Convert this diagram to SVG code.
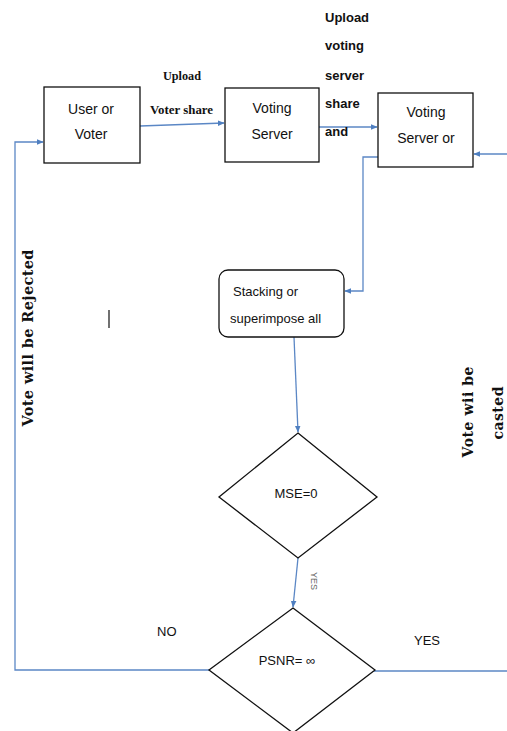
<svg xmlns="http://www.w3.org/2000/svg" width="507" height="731" viewBox="0 0 507 731">
<style>
.box{fill:#fff;stroke:#111;stroke-width:1.3}
.t{font-family:"Liberation Sans",Arial,sans-serif;font-size:14px;fill:#111;text-anchor:middle}
.lb{font-family:"Liberation Sans",Arial,sans-serif;font-size:13px;font-weight:bold;fill:#111}
.sl{font-family:"Liberation Serif","Times New Roman",serif;font-size:13.5px;font-weight:bold;fill:#111}
.vr{font-family:"DejaVu Serif",serif;font-size:14px;font-weight:bold;fill:#111;text-anchor:middle}
.c{fill:none;stroke:#5b87c5;stroke-width:1.3}
</style>
<defs>
<marker id="ah" viewBox="0 0 10 10" refX="9" refY="5" markerWidth="7" markerHeight="7" markerUnits="userSpaceOnUse" orient="auto">
<path d="M0,1 L10,5 L0,9 z" fill="#4f7fc0"/>
</marker>
</defs>
<rect width="507" height="731" fill="#fff"/>
<g id="connectors">
<path class="c" d="M140,126 L224,123" marker-end="url(#ah)"/>
<path class="c" d="M319,127 L377,127" marker-end="url(#ah)"/>
<path class="c" d="M507,154 L474,154" marker-end="url(#ah)"/>
<path class="c" d="M378,157 L363,157 L363,291 L345,291" marker-end="url(#ah)"/>
<path class="c" d="M294,337 L298,432" marker-end="url(#ah)"/>
<path class="c" d="M298,558 L293,607" marker-end="url(#ah)"/>
<path class="c" d="M209,670 L15,670 L15,142 L43,142" marker-end="url(#ah)"/>
<path class="c" d="M209,670 L250,670"/>
<path class="c" d="M342,671 L507,671"/>
</g>
<g id="user">
<rect class="box" x="44" y="87" width="96" height="76"/>
<text class="t" x="91" y="114">User or</text>
<text class="t" x="91" y="139">Voter</text>
</g>
<g id="server1">
<rect class="box" x="225" y="88" width="94" height="74"/>
<text class="t" x="272" y="113">Voting</text>
<text class="t" x="272" y="139">Server</text>
</g>
<g id="server2">
<rect class="box" x="378" y="93" width="95" height="74"/>
<text class="t" x="426" y="117">Voting</text>
<text class="t" x="426" y="143">Server or</text>
</g>
<g id="stacking">
<rect class="box" x="219" y="270" width="125" height="67" rx="9"/>
<text class="t" x="233" y="296" style="text-anchor:start;font-size:13px">Stacking or</text>
<text class="t" x="230" y="323" style="text-anchor:start;font-size:13px">superimpose all</text>
</g>
<g id="mse">
<polygon class="box" points="298,433 377,497 298,558 219,497"/>
<text class="t" x="296" y="498" style="font-size:13px">MSE=0</text>
</g>
<g id="psnr">
<polygon class="box" points="293,608 375,670 293,733 209,670"/>
<text class="t" x="287" y="665" style="font-size:13px">PSNR= ∞</text>
</g>
<g id="labels">
<text class="sl" x="163" y="80" textLength="38" lengthAdjust="spacingAndGlyphs">Upload</text>
<text class="sl" x="150" y="114" textLength="63" lengthAdjust="spacingAndGlyphs">Voter share</text>
<text class="lb" x="325" y="22">Upload</text>
<text class="lb" x="325" y="50">voting</text>
<text class="lb" x="325" y="80">server</text>
<text class="lb" x="325" y="108">share</text>
<text class="lb" x="325" y="136">and</text>
<text class="vr" transform="translate(33,338) rotate(-90)" style="font-size:14.5px" textLength="177" lengthAdjust="spacing">Vote will be Rejected</text>
<text class="vr" transform="translate(473,412) rotate(-90)" textLength="91" lengthAdjust="spacing">Vote wii be</text>
<text class="vr" transform="translate(503,413) rotate(-90)" textLength="53" lengthAdjust="spacing">casted</text>
<text transform="translate(311,581) rotate(90)" text-anchor="middle" style="font-family:'Liberation Sans',Arial,sans-serif;font-size:9px;fill:#666">YES</text>
<text class="lb" x="157" y="636" style="font-weight:normal;font-size:13px">NO</text>
<text class="lb" x="414" y="645" style="font-weight:normal;font-size:13px">YES</text>
</g>
<path d="M109,310 L109,328" stroke="#111" stroke-width="1.2"/>
</svg>
